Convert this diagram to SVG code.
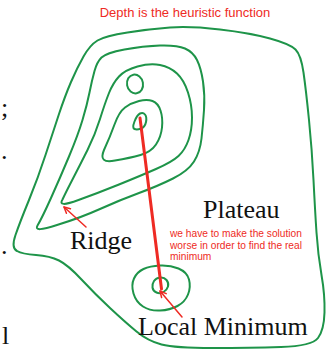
<svg xmlns="http://www.w3.org/2000/svg" width="330" height="350" viewBox="0 0 330 350">
<defs>
<style>
.c{fill:none;stroke:#1e9449;stroke-width:2;stroke-linejoin:round;stroke-linecap:round}
.r{fill:none;stroke:#ee2b24;stroke-linecap:round}
.lbl{font-family:"Liberation Serif","Times New Roman",serif;font-size:26px;fill:#111}
.note{font-family:"Liberation Sans",Arial,sans-serif;fill:#ee2b24}
</style>
<marker id="ah" viewBox="0 0 8 8" refX="7" refY="4" markerWidth="8" markerHeight="8" markerUnits="userSpaceOnUse" orient="auto">
<path d="M1,1 L7,4 L1,7" fill="none" stroke="#ee2b24" stroke-width="1.5" stroke-linecap="round" stroke-linejoin="round"/>
</marker>
</defs>
<rect width="330" height="350" fill="#fff"/>

<g id="outer-contour">
<path class="c" d="M83.5,56.5 Q90,45 97.5,40.5 Q105,36 127.5,32.5 Q150,29 170,27.5 Q190,26 220,29.5 Q250,33 270,38.5 Q290,44 295.5,49.5 Q301,55 303.5,72.5 Q306,90 309,120 Q312,150 313.5,180 Q315,210 316.5,232.5 Q318,255 321.5,275 Q325,295 324.5,312.5 Q324,330 318,338 Q312,346 281,347 Q250,348 212.5,348 Q175,348 161.5,344.5 Q148,341 136.5,331.5 Q125,322 110,308 Q95,294 81.5,279.5 Q68,265 59,260.5 Q50,256 36,255 Q22,254 17,251 Q11,248 15.5,235 Q20,222 29,200 Q38,178 45.5,155 Q53,132 59,114 Q65,96 71,82 Q77,68 83.5,56.5 Z"/>
</g>

<g id="contour-2">
<path class="c" d="M101.5,57.5 Q106,53 124.5,49.5 Q143,46 160,45.5 Q177,45 185,48.5 Q193,52 197,60 Q201,68 203,81.5 Q205,95 204,110 Q203,125 201.5,138.5 Q200,152 194,161.5 Q188,171 173,178.5 Q158,186 139,193 Q120,200 100,209 Q80,218 57,225 Q33,233 37.5,225.5 Q42,218 51,198 Q60,178 69,156.5 Q78,135 82.5,120 Q87,105 89.5,92.5 Q92,80 94.5,71 Q97,62 101.5,57.5 Z"/>
</g>

<g id="contour-3">
<path class="c" d="M119,76.5 Q125,70 137.5,66.5 Q150,63 160,65 Q170,67 177,73.5 Q184,80 188,92.5 Q192,105 192,117.5 Q192,130 188.5,140 Q185,150 178.5,156 Q172,162 156,169 Q140,176 119,184.5 Q98,193 78.5,200 Q57,208 62.5,199.5 Q66,192 73,178.5 Q80,165 87.5,150 Q95,135 100,119 Q105,103 109,93 Q113,83 119,76.5 Z"/>
</g>

<g id="hilltop">
<ellipse class="c" cx="135" cy="84" rx="8" ry="9.5" transform="rotate(-10 135 84)"/>
</g>

<g id="contour-4">
<path class="c" d="M125,107.5 Q131,103 139,101 Q147,99 152.5,101 Q158,103 160.5,110.5 Q163,118 162,127.5 Q161,137 156,144.5 Q151,152 140.5,155 Q130,158 115,160.5 Q98,164 104,150 Q110,137 114.5,124.5 Q119,112 125,107.5 Z"/>
</g>

<g id="peak">
<path class="c" d="M134.5,121.5 Q137,115 140,113.5 Q143,112 145,114.5 Q147,117 146,122 Q145,127 141,128.5 Q137,130 134.5,129 Q132,128 134.5,121.5 Z"/>
</g>

<g id="local-minimum-basin">
<path class="c" d="M134,278.5 Q137,272 143.5,269 Q150,266 160,265.5 Q170,265 178.5,268.5 Q187,272 189,279.5 Q191,287 188,294.5 Q185,302 177.5,306 Q170,310 160,310.5 Q150,311 143,306.5 Q136,302 133.5,293.5 Q131,285 134,278.5 Z"/>
<path class="c" d="M154,281 Q156,278 160,277.5 Q164,277 166.5,280 Q169,283 168,286.5 Q167,290 163.5,292 Q160,294 156.5,292.5 Q153,291 152.5,287.5 Q152,284 154,281 Z"/>
</g>

<g id="connectors">
<line class="r" x1="140" y1="118" x2="161.5" y2="289" stroke-width="3"/>
<line class="r" x1="86" y1="227" x2="64" y2="207" stroke-width="1.5" marker-end="url(#ah)"/>
<line class="r" x1="182" y1="317" x2="160" y2="291" stroke-width="1.5" marker-end="url(#ah)"/>
</g>

<g id="title">
<text class="note" x="185" y="17" font-size="13" text-anchor="middle">Depth is the heuristic function</text>
</g>
<g id="label-plateau"><text class="lbl" x="203" y="218">Plateau</text></g>
<g id="label-ridge"><text class="lbl" x="70" y="249">Ridge</text></g>
<g id="label-local-minimum"><text class="lbl" x="138" y="335">Local Minimum</text></g>
<g id="note">
<text class="note" font-size="10.2" x="170" y="237.3">we have to make the solution</text>
<text class="note" font-size="10.2" x="170" y="248.6">worse in order to find the real</text>
<text class="note" font-size="10.2" x="170" y="259.9">minimum</text>
</g>
<g id="margin-fragments">
<text class="lbl" x="1" y="116">;</text>
<text class="lbl" x="1" y="158.5">.</text>
<text class="lbl" x="1" y="253.5">.</text>
<text class="lbl" x="2" y="344">l</text>
</g>
</svg>
